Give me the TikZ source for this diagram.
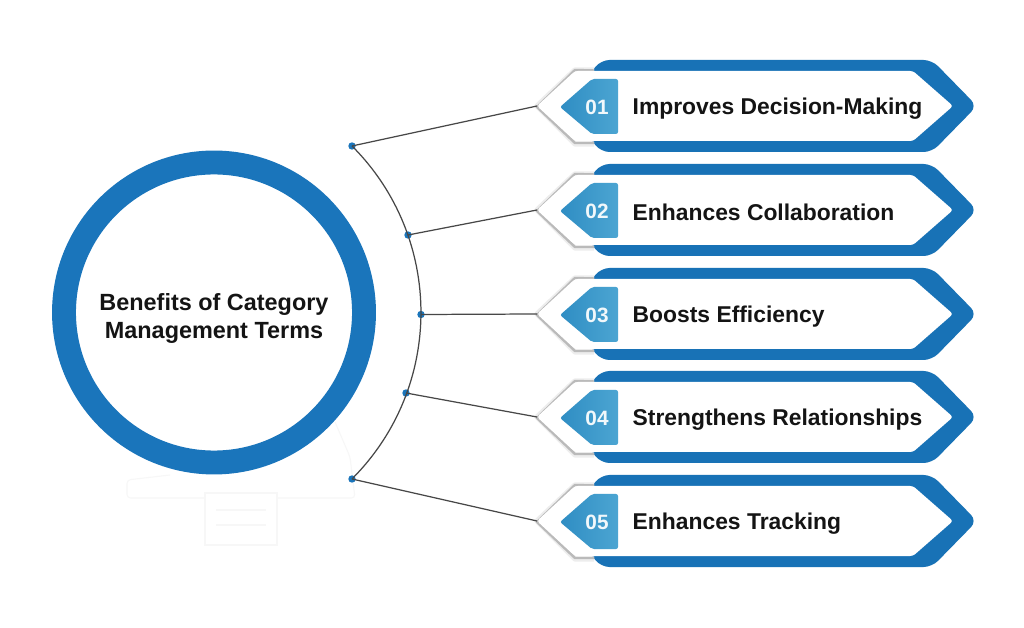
\documentclass[tikz,border=0pt]{standalone}
\usepackage{fontspec}
\setmainfont{Liberation Sans}
\usetikzlibrary{positioning}
\definecolor{ringblue}{HTML}{1A75BB}
\definecolor{backblue}{HTML}{1872B6}
\definecolor{badgedark}{HTML}{2F8DC3}
\definecolor{badgelight}{HTML}{4CA5D2}
\tikzset{
  circ/.style = {fill=ringblue, circle, inner sep = 0, minimum size = 2.1},
  wire/.style = {draw=black!72, line width=0.35pt},
  label/.style = {font=\bfseries\fontsize{6.5}{8}\selectfont, text=black!92, anchor=west, inner sep=0},
  num/.style = {font=\bfseries\fontsize{5.9}{8}\selectfont, text=white!92!badgelight, inner sep=0},
  ghost/.style = {draw=black!3, line width=0.3pt}
}

\begin{document}
\begin{tikzpicture}[x=0.01cm, y=0.01cm]
    \useasboundingbox (0, 0) rectangle (1024, 627);
    \fill [white] (0, 0) rectangle (1024, 627);

    % faint mark under the ring
    \draw [ghost] (205, 134) rectangle (277, 82);
    \draw [ghost] (216, 117) -- (266, 117);
    \draw [ghost] (216, 102) -- (266, 102);
    \draw [ghost, rounded corners=1] (205, 129) -- (127, 129) -- (127, 147) -- (170, 152);
    \draw [ghost, rounded corners=1] (277, 129) -- (355, 129) -- (350, 170) -- (335, 205);

    % ring and title
    \draw [ringblue, line width=6.8] (214, 314.5) circle [radius=150];
    \node [align=center, font=\bfseries\fontsize{6.66}{8}\selectfont, text=black!92, inner sep=0] (title) at (214, 308.5) {Benefits of Category\\Management Terms};

    % arc with the five dots
    \node [circ] (d1) at (352, 481) {};
    \node [circ] (d2) at (408, 392) {};
    \node [circ] (d3) at (421, 312.5) {};
    \node [circ] (d4) at (406, 234) {};
    \node [circ] (d5) at (352, 148) {};
    \draw [wire] (d1.center) arc [start angle=45, end angle=-45, radius=235.4];

    \foreach \num/\rowy/\txt in {1/521/Improves Decision-Making, 2/417/Enhances Collaboration, 3/313/Boosts Efficiency, 4/210/Strengthens Relationships, 5/106/Enhances Tracking} {
      \begin{scope}[shift={(0, \rowy)}]
        \fill [backblue, rounded corners=2.4] (588, 30) -- (601, 46) -- (932, 46) -- (977, 0) -- (932, -46) -- (601, -46) -- (588, -30) -- cycle;
        \draw [black!7, line width=1.5, line join=round] (594, 36) -- (575, 36) -- (537, 0) -- (575, -38) -- (594, -38);
        \draw [black!27, line width=0.7, line join=round] (594, 35.5) -- (575, 36) -- (537, -1) -- (575, -37) -- (594, -37);
        \fill [white, rounded corners=0.8] (575, 35) -- (913, 35) -- (953, 0) -- (913, -35) -- (575, -35) -- (537, 0) -- cycle;
        \shade [left color=badgedark, right color=badgelight, rounded corners=0.6] (560, -1) -- (592, 27) -- (618, 27) -- (618, -28) -- (592, -28) -- cycle;
        \node [num] (num\num) at (597, -1) {0\num};
        \node [label] (txt\num) at (632, -2.5) {\txt};
        \coordinate (tip\num) at (537, 0);
      \end{scope}
    }

    % connectors
    \foreach \num in {1, ..., 5} {
      \draw [wire] (d\num.center) -- (tip\num);
    }
\end{tikzpicture}
\end{document}
